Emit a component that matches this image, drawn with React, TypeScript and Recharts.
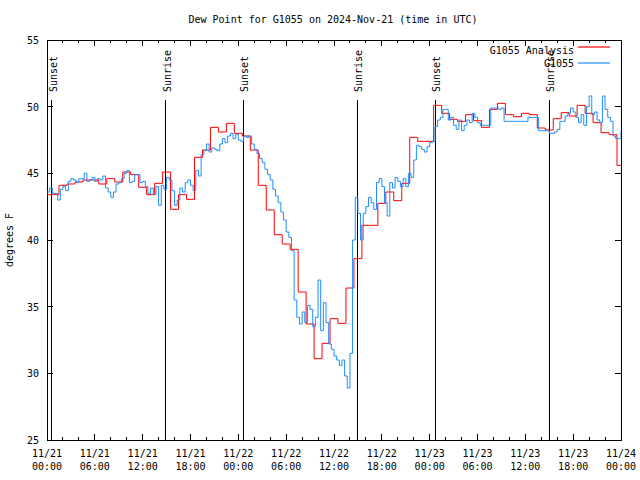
import { LineChart, Line, XAxis, YAxis, ReferenceLine, ReferenceArea } from 'recharts';

// hourly analysis values, 11/21 00:00 .. 11/24 00:00 (degrees F)
const analysisDewPoint = [
  43.4, 43.4, 44.1, 44.2, 44.35, 44.5, 44.5, 44.2, 44.6, 44.35, 45.1, 44.9,
  43.95, 43.4, 44.25, 45.1, 42.3, 43.4, 43.05, 46.2, 46.75, 48.45, 48.1, 48.75,
  48.0, 47.8, 46.75, 44.1, 42.25, 40.4, 39.7, 39.3, 36.1, 33.7, 31.1, 32.25,
  34.1, 33.75, 36.4, 38.6, 41.1, 41.1, 42.75, 43.6, 42.95, 44.25, 47.7, 47.4,
  47.4, 50.1, 49.5, 49.05, 48.9, 49.4, 48.95, 48.45, 49.8, 50.25, 49.4, 49.25,
  49.5, 49.4, 48.4, 48.25, 49.1, 49.55, 49.3, 50.1, 49.5, 48.8, 48.05, 47.9,
  45.6,
];

// station observations, every 20 minutes from 11/21 00:00
const observedDewPoint = [
  43.6, 43.9, 43.5, 43.5, 43.0, 43.8, 44.0, 43.7, 44.4, 44.6, 44.5, 44.3,
  44.6, 44.6, 45.0, 44.4, 44.5, 44.7, 44.4, 44.6, 44.5, 44.8, 43.9, 43.6,
  43.2, 43.6, 44.2, 44.3, 44.6, 45.0, 45.2, 44.3, 44.4, 44.9, 44.9, 44.3,
  44.4, 44.0, 43.5, 43.9, 43.4, 44.0, 42.6, 44.1, 43.8, 44.7, 44.5, 43.7,
  42.6, 43.0, 43.9, 43.6, 44.3, 44.5, 44.1, 43.7, 45.2, 44.8, 46.4, 46.7,
  47.2, 46.6, 46.9, 46.8, 46.7, 47.2, 47.6, 47.3, 47.8, 48.0, 47.6, 47.9,
  47.5, 47.4, 47.8, 47.7, 47.8, 47.2, 46.8, 46.5, 46.1, 45.8, 45.3, 44.9,
  44.5, 43.8, 43.3, 42.8, 42.1, 41.5, 40.6, 40.2, 39.2, 35.5, 34.2, 33.7,
  34.6, 33.8, 35.1, 34.8, 33.5, 34.2, 37.0, 33.2, 35.3, 33.8, 32.2, 31.8,
  31.3, 31.0, 30.6, 31.0, 29.8, 28.9, 31.5, 40.0, 43.2, 42.0, 40.0, 42.0,
  42.5, 43.2, 42.8, 42.3, 44.3, 44.6, 44.0, 42.8, 41.8, 44.3, 43.9, 44.7,
  44.4, 44.0, 44.6, 44.0, 45.0, 44.7, 46.0, 47.1, 47.0, 46.8, 46.6, 47.0,
  47.3, 47.4, 48.5, 49.0, 49.2, 49.8, 49.8, 49.0, 49.2, 48.6, 48.3, 49.0,
  48.2, 48.6, 49.0, 48.8, 49.5, 49.2, 48.8, 48.6, 48.6, 48.6, 48.6, 49.9,
  49.9, 49.9, 49.8, 49.9, 48.9, 48.9, 48.9, 48.9, 48.9, 48.9, 48.9, 48.9,
  48.9, 49.2, 49.2, 49.2, 49.2, 48.2, 48.2, 48.2, 48.2, 48.0, 48.0, 48.1,
  48.3, 48.9, 48.9, 49.3, 49.5, 49.9, 49.6, 49.2, 48.8, 49.4, 48.6, 50.0,
  50.8, 49.4, 49.6, 49.0, 48.8, 50.8, 49.8, 49.2, 48.9, 47.8, 47.6, 47.6,
  48.2,
];

const tickDates = ['11/21', '11/21', '11/21', '11/21', '11/22', '11/22', '11/22', '11/22', '11/23', '11/23', '11/23', '11/23', '11/24'];
const tickTimes = ['00:00', '06:00', '12:00', '18:00', '00:00', '06:00', '12:00', '18:00', '00:00', '06:00', '12:00', '18:00', '00:00'];
const yTicks = [25, 30, 35, 40, 45, 50, 55];

// hours since 11/21 00:00
const sunTimes = [0.6, 14.9, 24.6, 38.9, 48.7, 63.0];
const sunLabels = ['Sunset', 'Sunrise', 'Sunset', 'Sunrise', 'Sunset', 'Sunrise'];

const FONT = '"DejaVu Sans Mono", monospace';
const RED = '#ff0000';
const BLUE = '#1e8cff';

const chartData = observedDewPoint.map((v, i) => ({
  t: i / 3,
  obs: v,
  analysis: i % 3 === 0 ? analysisDewPoint[i / 3] : null,
}));

const xTicks = Array.from({ length: 37 }, (_, i) => i * 2);

function BottomTick(props: any) {
  const { x, y, payload } = props;
  const v = payload.value;
  const major = v % 6 === 0;
  return (
    <g>
      <line x1={x} x2={x} y1={y} y2={y - (major ? 6 : 3)} stroke="#000" shapeRendering="crispEdges" />
      {major && (
        <text x={x} y={y + 17} textAnchor="middle" fontFamily={FONT} fontSize={10} fill="#000">
          {tickDates[v / 6]}
        </text>
      )}
      {major && (
        <text x={x} y={y + 30} textAnchor="middle" fontFamily={FONT} fontSize={10} fill="#000">
          {tickTimes[v / 6]}
        </text>
      )}
    </g>
  );
}

function TopTick(props: any) {
  const { x, y, payload } = props;
  const major = payload.value % 6 === 0;
  return <line x1={x} x2={x} y1={y} y2={y + (major ? 6 : 3)} stroke="#000" shapeRendering="crispEdges" />;
}

function LeftTick(props: any) {
  const { x, y, payload } = props;
  return (
    <g>
      <line x1={x} x2={x + 6} y1={y} y2={y} stroke="#000" shapeRendering="crispEdges" />
      <text x={x - 8} y={y + 4} textAnchor="end" fontFamily={FONT} fontSize={10} fill="#000">
        {payload.value}
      </text>
    </g>
  );
}

function RightTick(props: any) {
  const { x, y } = props;
  return <line x1={x} x2={x - 6} y1={y} y2={y} stroke="#000" shapeRendering="crispEdges" />;
}

function SunLabel(props: any) {
  const { viewBox, text } = props;
  const x = viewBox.x + 5;
  const y = viewBox.y - 8;
  return (
    <text x={x} y={y} transform={`rotate(-90 ${x} ${y})`} fontFamily={FONT} fontSize={10} fill="#000">
      {text}
    </text>
  );
}

export default function App() {
  return (
    <div style={{ position: 'absolute', left: 0, top: 0, width: 640, height: 480, background: '#fff' }}>
      <LineChart width={640} height={480} data={chartData} margin={{ top: 0, right: 0, bottom: 0, left: 0 }}>
        <XAxis
          dataKey="t"
          type="number"
          domain={[0, 72]}
          ticks={xTicks}
          interval={0}
          height={40}
          axisLine={false}
          tickLine={false}
          tickSize={0}
          tickMargin={0}
          tick={<BottomTick />}
          allowDataOverflow
        />
        <XAxis
          xAxisId="top"
          orientation="top"
          dataKey="t"
          type="number"
          domain={[0, 72]}
          ticks={xTicks}
          interval={0}
          height={40}
          axisLine={false}
          tickLine={false}
          tickSize={0}
          tickMargin={0}
          tick={<TopTick />}
          allowDataOverflow
        />
        <YAxis
          type="number"
          domain={[25, 55]}
          ticks={yTicks}
          interval={0}
          width={47}
          axisLine={false}
          tickLine={false}
          tickSize={0}
          tickMargin={0}
          tick={<LeftTick />}
          allowDataOverflow
        />
        <YAxis
          yAxisId="right"
          orientation="right"
          type="number"
          domain={[25, 55]}
          ticks={yTicks}
          interval={0}
          width={19}
          axisLine={false}
          tickLine={false}
          tickSize={0}
          tickMargin={0}
          tick={<RightTick />}
          allowDataOverflow
        />
        {sunTimes.map((h, i) => (
          <ReferenceLine
            key={i}
            segment={[{ x: h, y: 25 }, { x: h, y: 50.5 }]}
            stroke="#000"
            strokeWidth={1}
            shapeRendering="crispEdges"
            label={<SunLabel text={sunLabels[i]} />}
          />
        ))}
        <Line
          dataKey="analysis"
          type="step"
          stroke={RED}
          strokeWidth={1}
          dot={false}
          connectNulls
          isAnimationActive={false}
        />
        <Line
          dataKey="obs"
          type="stepAfter"
          stroke={BLUE}
          strokeWidth={1}
          dot={false}
          isAnimationActive={false}
        />
        <ReferenceArea x1={0} x2={72} y1={25} y2={55} fill="none" stroke="#000" strokeWidth={1} shapeRendering="crispEdges" />
      </LineChart>
      <svg width={640} height={480} style={{ position: 'absolute', left: 0, top: 0, pointerEvents: 'none' }}>
        <text x={333} y={23} textAnchor="middle" fontFamily={FONT} fontSize={10} fill="#000">
          Dew Point for G1055 on 2024-Nov-21 (time in UTC)
        </text>
        <text x={13} y={240} textAnchor="middle" transform="rotate(-90 13 240)" fontFamily={FONT} fontSize={10} fill="#000">
          degrees F
        </text>
        <text x={574} y={54} textAnchor="end" fontFamily={FONT} fontSize={10} fill="#000">G1055 Analysis</text>
        <line x1={578} x2={610} y1={47} y2={47} stroke={RED} strokeWidth={1.2} />
        <text x={574} y={67} textAnchor="end" fontFamily={FONT} fontSize={10} fill="#000">G1055</text>
        <line x1={578} x2={610} y1={63} y2={63} stroke={BLUE} strokeWidth={1.2} />
      </svg>
    </div>
  );
}
